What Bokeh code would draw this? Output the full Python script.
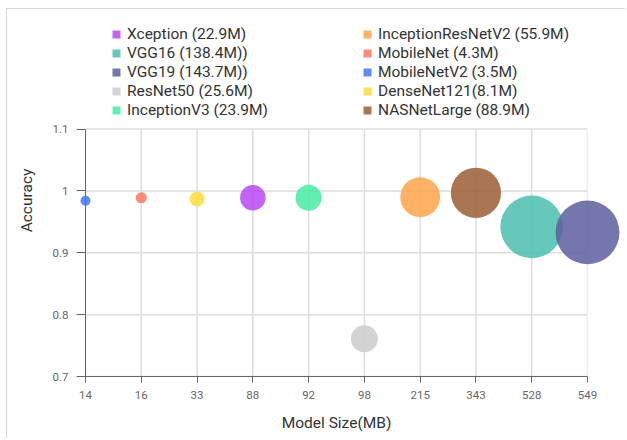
from bokeh.plotting import figure
from bokeh.models import (ColumnDataSource, Range1d, FixedTicker, Legend, LegendItem,
                          CustomJSTickFormatter)
from bokeh.embed import file_html
from bokeh.resources import INLINE

# ---- data ----
size_ticks = ["14", "16", "33", "88", "92", "98", "215", "343", "528", "549"]
accuracy_ticks = [0.7, 0.8, 0.9, 1.0, 1.1]

models = ["Xception", "VGG16", "VGG19", "ResNet50", "InceptionV3",
          "InceptionResNetV2", "MobileNet", "MobileNetV2", "DenseNet121", "NASNetLarge"]
legend_labels = ["Xception (22.9M)", "VGG16 (138.4M))", "VGG19 (143.7M))", "ResNet50 (25.6M)",
                 "InceptionV3 (23.9M)", "InceptionResNetV2 (55.9M)", "MobileNet (4.3M)",
                 "MobileNetV2 (3.5M)", "DenseNet121(8.1M)", "NASNetLarge (88.9M)"]
model_size_mb = ["88", "528", "549", "98", "92", "215", "16", "14", "33", "343"]
accuracy = [0.989, 0.942, 0.933, 0.761, 0.989, 0.990, 0.989, 0.984, 0.987, 0.997]
params_m = [22.9, 138.4, 143.7, 25.6, 23.9, 55.9, 4.3, 3.5, 8.1, 88.9]
colors = ["#b746f4", "#4bbeae", "#5d5f9d", "#cbcbcb", "#46eba2",
          "#ffa44b", "#ff7560", "#3d78f9", "#ffdd3d", "#9b5d34"]

x_pos = [size_ticks.index(s) for s in model_size_mb]
bubble = [5.33 * (v ** 0.5) for v in params_m]

source = ColumnDataSource(dict(x=x_pos, y=accuracy, size=bubble, color=colors,
                               model=models, label=legend_labels))

FONT = "Roboto"
N = len(size_ticks)
y_lo, y_hi = min(accuracy_ticks), max(accuracy_ticks)
NAN = float("nan")

# the frame extends above 1.1 to hold the legend; the axis is bounded to 0.7..1.1
p = figure(width=619, height=430, output_backend="svg", toolbar_location=None,
           x_range=Range1d(0, N - 1), y_range=Range1d(0.7, 1.2691),
           min_border_left=78, min_border_right=39, min_border_top=15, min_border_bottom=63)
p.outline_line_color = None
p.styles = {"border-top": "1px solid #d6d6d6", "border-left": "1px solid #d6d6d6",
            "margin-left": "6px", "margin-top": "8px"}
p.grid.visible = False

# grid lines drawn from the tick lists, limited to the axis box
vx = list(range(N))
p.segment(x0=vx, y0=[y_lo] * N, x1=vx, y1=[y_hi] * N, line_color="#dddddd", line_width=1.5)
p.segment(x0=[0] * len(accuracy_ticks), y0=accuracy_ticks, x1=[N - 1] * len(accuracy_ticks),
          y1=accuracy_ticks, line_color="#dddddd", line_width=1.5)

r = p.scatter("x", "y", size="size", fill_color="color", fill_alpha=0.85,
              line_color=None, source=source, level="overlay")

# axes
p.xaxis.ticker = FixedTicker(ticks=list(range(N)))
p.xaxis.major_label_overrides = {i: s for i, s in enumerate(size_ticks)}
p.yaxis.ticker = FixedTicker(ticks=accuracy_ticks)
p.yaxis.bounds = (y_lo, y_hi)
p.yaxis.formatter = CustomJSTickFormatter(code="return String(Math.round(tick*10)/10)")
p.xaxis.axis_label = "Model Size(MB)"
p.yaxis.axis_label = "Accuracy"
for ax in (p.xaxis[0], p.yaxis[0]):
    ax.axis_line_color = "#666666"
    ax.major_tick_line_color = "#666666"
    ax.minor_tick_line_color = None
    ax.major_tick_in = 0
    ax.major_label_text_font = FONT
    ax.major_label_text_font_size = "11.5px"
    ax.major_label_text_color = "#666666"
    ax.axis_label_text_font = FONT
    ax.axis_label_text_font_size = "15.5px"
    ax.axis_label_text_font_style = "normal"
    ax.axis_label_text_color = "#333333"
p.xaxis.major_tick_out = 6
p.xaxis.major_label_standoff = 8
p.xaxis.axis_label_standoff = 12
p.yaxis.major_tick_out = 9
p.yaxis.major_label_standoff = 8
p.yaxis.axis_label_standoff = 14

# legend swatches: square renderers (no visible point) in each model's colour
items = []
for lab, col in zip(legend_labels, colors):
    sw = p.quad(left=[NAN], right=[NAN], top=[NAN], bottom=[NAN], fill_color=col,
                fill_alpha=0.85, line_color=None)
    items.append(LegendItem(label=lab, renderers=[sw]))
legend = Legend(items=items, location=(26, 257), orientation="vertical", nrows=5,
                glyph_width=10, glyph_height=10, label_standoff=6, label_width=235,
                label_height=19, spacing=0, padding=0, margin=0,
                border_line_color=None, background_fill_alpha=0,
                label_text_font=FONT, label_text_font_size="15.5px", label_text_color="#333333")
p.add_layout(legend, "center")

open("out.html", "w").write(file_html(p, INLINE))
